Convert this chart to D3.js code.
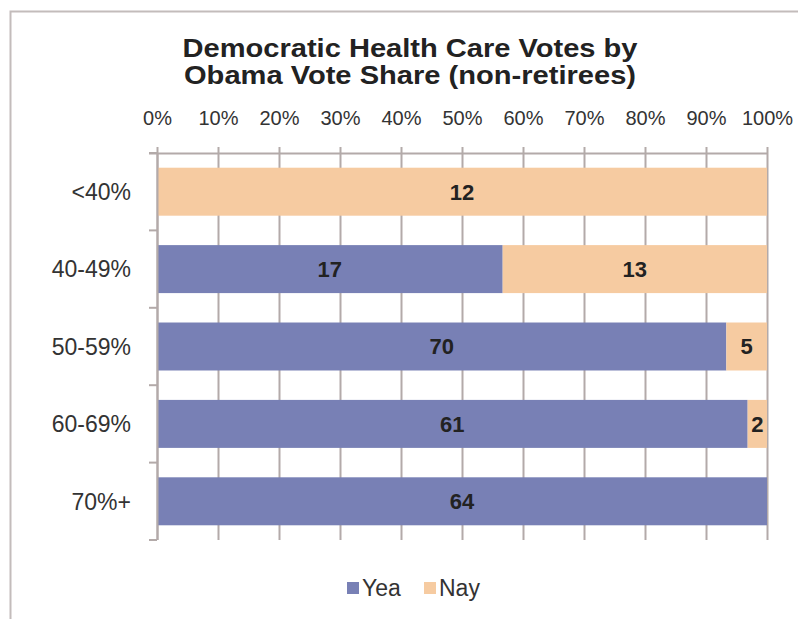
<!DOCTYPE html>
<html>
<head>
<meta charset="utf-8">
<script src="https://cdn.jsdelivr.net/npm/d3@7"></script>
<style>
  body { margin: 0; background: #fff; }
  svg { display: block; font-family: "Liberation Sans", Arial, sans-serif; }
</style>
</head>
<body>
<svg id="chart" width="798" height="619"></svg>
<script>
// categories and vote counts
const categories = ["<40%", "40-49%", "50-59%", "60-69%", "70%+"];
const yea = [0, 17, 70, 61, 64];
const nay = [12, 13, 5, 2, 0];
const seriesNames = ["Yea", "Nay"];
const seriesColors = ["#7880b5", "#f6cba1"];
const tickValues = [0, 0.1, 0.2, 0.3, 0.4, 0.5, 0.6, 0.7, 0.8, 0.9, 1];
const titleLines = ["Democratic Health Care Votes by", "Obama Vote Share (non-retirees)"];

const svg = d3.select("#chart");
const margin = {left: 157, right: 31, top: 153, bottom: 79};
const width = 798 - margin.left - margin.right;
const height = 619 - margin.top - margin.bottom;
const gridColor = "#b3aaa9";
const textColor = "#333";

// outer frame (cropped on the right and bottom like the picture)
svg.append("path")
    .attr("d", "M10.5,619 L10.5,11.5 L798,11.5")
    .attr("fill", "none")
    .attr("stroke", "#c3bcbb")
    .attr("stroke-width", 2);

// title, stretched a little to match the wide lettering
const titleY = [57, 84];
const titleLen = [455, 452];
svg.selectAll(".title").data(titleLines).enter().append("text")
    .attr("x", 410)
    .attr("y", (d, i) => titleY[i])
    .attr("text-anchor", "middle")
    .attr("font-weight", "bold")
    .attr("font-size", 25)
    .attr("fill", "#222")
    .attr("textLength", (d, i) => titleLen[i])
    .attr("lengthAdjust", "spacingAndGlyphs")
    .text(d => d);

const g = svg.append("g").attr("transform", `translate(${margin.left},${margin.top})`);

const x = d3.scaleLinear().domain([0, 1]).range([0, width]);
const y = d3.scaleBand().domain(categories).range([0, height]).paddingInner(0.38).paddingOuter(0.19);

// vertical gridlines
g.selectAll(".grid").data(tickValues).enter().append("line")
    .attr("x1", d => x(d) + 0.5).attr("x2", d => x(d) + 0.5)
    .attr("y1", 0).attr("y2", height)
    .attr("stroke", gridColor).attr("stroke-width", 2);

// stacked data as shares
const rows = categories.map((c, i) => {
    const total = yea[i] + nay[i];
    return {cat: c, Yea: yea[i] / total, Nay: nay[i] / total, counts: {Yea: yea[i], Nay: nay[i]}};
});
const stack = d3.stack().keys(seriesNames)(rows);

const layer = g.selectAll(".layer").data(stack).enter().append("g")
    .attr("fill", (d, i) => seriesColors[i]);

layer.selectAll("rect").data(d => d).enter().append("rect")
    .attr("x", d => x(d[0]))
    .attr("width", d => x(d[1]) - x(d[0]))
    .attr("y", d => y(d.data.cat))
    .attr("height", y.bandwidth());

// value labels
stack.forEach(s => {
    g.selectAll(null).data(s.filter(d => d.data.counts[s.key] > 0)).enter().append("text")
        .attr("x", d => (x(d[0]) + x(d[1])) / 2)
        .attr("y", d => y(d.data.cat) + y.bandwidth() / 2)
        .attr("dy", "0.36em")
        .attr("text-anchor", "middle")
        .attr("font-weight", "bold")
        .attr("font-size", 22)
        .attr("fill", "#222")
        .text(d => d.data.counts[s.key]);
});

// top axis
const xAxis = d3.axisTop(x).tickValues(tickValues).tickFormat(d3.format(".0%")).tickSize(6).tickPadding(22);
const xg = g.append("g").call(xAxis);
xg.attr("font-family", null).attr("font-size", null);
xg.select(".domain").attr("stroke", gridColor).attr("stroke-width", 2).attr("d", `M-8,0.5H${width}`);
xg.selectAll(".tick line").attr("stroke", gridColor).attr("stroke-width", 2);
xg.selectAll(".tick text").attr("font-size", 20).attr("fill", textColor);

// left axis, ticks at band boundaries
const boundaries = d3.range(categories.length + 1).map(i => i * height / categories.length);
g.selectAll(".ytick").data(boundaries).enter().append("line")
    .attr("x1", -8).attr("x2", 0)
    .attr("y1", d => d).attr("y2", d => d)
    .attr("stroke", gridColor).attr("stroke-width", 2);
g.append("line").attr("x1", 0.5).attr("x2", 0.5).attr("y1", 0).attr("y2", height)
    .attr("stroke", gridColor).attr("stroke-width", 2);

g.selectAll(".ylabel").data(categories).enter().append("text")
    .attr("x", -26)
    .attr("y", d => y(d) + y.bandwidth() / 2)
    .attr("dy", "0.36em")
    .attr("text-anchor", "end")
    .attr("font-size", 23)
    .attr("fill", textColor)
    .text(d => d);

// legend
const legendX = [347, 424];
const legend = svg.selectAll(".legend").data(seriesNames).enter().append("g")
    .attr("transform", (d, i) => `translate(${legendX[i]},588)`);
legend.append("rect").attr("x", 0).attr("y", -6).attr("width", 12).attr("height", 12)
    .attr("fill", (d, i) => seriesColors[i]);
legend.append("text").attr("x", 15).attr("y", 0).attr("dy", "0.36em")
    .attr("font-size", 23).attr("fill", textColor).text(d => d);
</script>
</body>
</html>
